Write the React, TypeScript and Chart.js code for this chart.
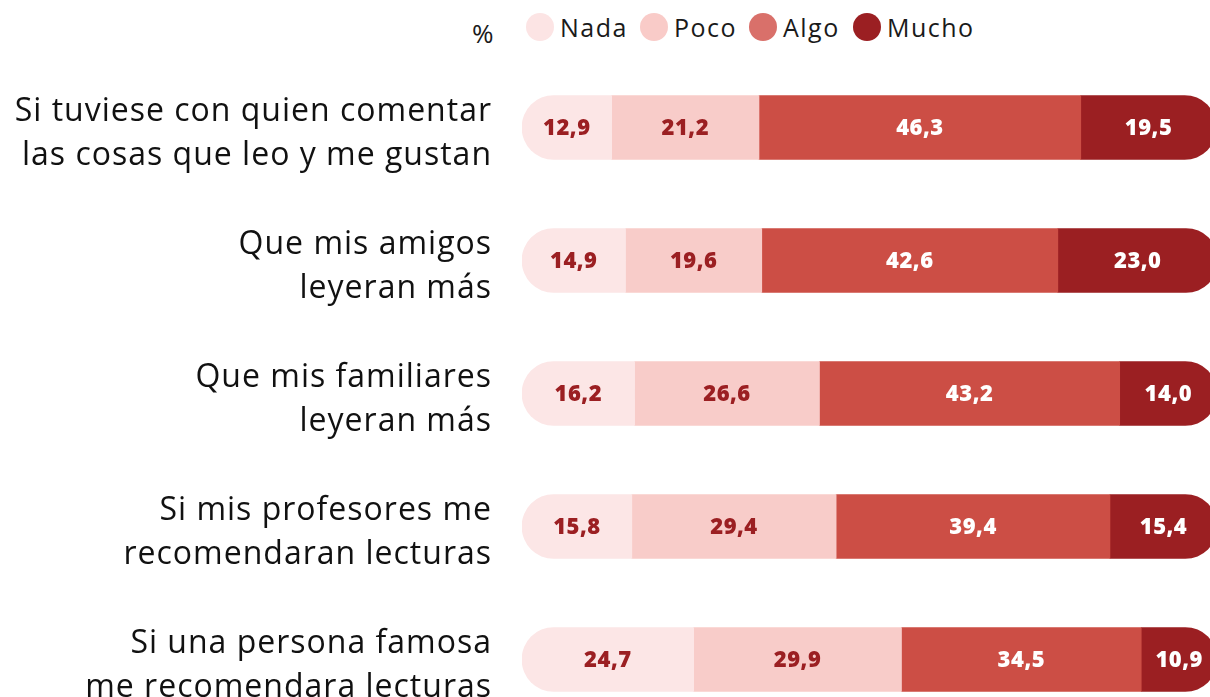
import React, { useEffect, useRef } from "react";
import { Chart, registerables } from "chart.js";

Chart.register(...registerables);

const categories: string[][] = [
  ["Si tuviese con quien comentar", "las cosas que leo y me gustan"],
  ["Que mis amigos", "leyeran más"],
  ["Que mis familiares", "leyeran más"],
  ["Si mis profesores me", "recomendaran lecturas"],
  ["Si una persona famosa", "me recomendara lecturas"],
];

const seriesNames = ["Nada", "Poco", "Algo", "Mucho"];
const nada = [12.9, 14.9, 16.2, 15.8, 24.7];
const poco = [21.2, 19.6, 26.6, 29.4, 29.9];
const algo = [46.3, 42.6, 43.2, 39.4, 34.5];
const mucho = [19.5, 23.0, 14.0, 15.4, 10.9];

const barColors = ["#FCE6E6", "#F8CCC9", "#CC4E45", "#9B1F22"];
const legendColors = ["#FCE4E4", "#F9CBC8", "#D9706A", "#9B1F22"];
const labelColors = ["#9B1F22", "#9B1F22", "#FFFFFF", "#FFFFFF"];
const legendLeft = [526, 640, 749, 853];

const FONT = "'Open Sans', 'Noto Sans', sans-serif";

const spacingPlugin = {
  id: "spacing",
  beforeDraw(chart: any) {
    chart.ctx.letterSpacing = "1px";
  },
};

const valueLabelPlugin = {
  id: "valueLabels",
  afterDatasetsDraw(chart: any) {
    const ctx = chart.ctx;
    ctx.save();
    ctx.letterSpacing = "0.5px";
    ctx.font = `800 22px ${FONT}`;
    ctx.textAlign = "center";
    ctx.textBaseline = "middle";
    chart.data.datasets.forEach((ds: any, di: number) => {
      const meta = chart.getDatasetMeta(di);
      meta.data.forEach((el: any, i: number) => {
        const { x, y, base } = el.getProps(["x", "y", "base"], true);
        const v = ds.data[i] as number;
        ctx.fillStyle = labelColors[di];
        ctx.fillText(v.toFixed(1).replace(".", ","), (x + base) / 2, y + 1);
      });
    });
    ctx.restore();
  },
};

export default function App() {
  const canvasRef = useRef<HTMLCanvasElement | null>(null);

  useEffect(() => {
    if (!canvasRef.current) return;
    const seriesData = [nada, poco, algo, mucho];
    const chart = new Chart(canvasRef.current, {
      type: "bar",
      data: {
        labels: categories,
        datasets: seriesNames.map((name, i) => ({
          label: name,
          data: seriesData[i],
          backgroundColor: barColors[i],
          borderWidth: 0,
          borderSkipped: false,
          barThickness: 64,
          borderRadius:
            i === 0
              ? { topLeft: 32, bottomLeft: 32, topRight: 0, bottomRight: 0 }
              : i === 3
              ? { topLeft: 0, bottomLeft: 0, topRight: 32, bottomRight: 32 }
              : 0,
        })),
      },
      options: {
        indexAxis: "y",
        responsive: false,
        animation: false,
        layout: { padding: { top: 61, left: 0, right: 0, bottom: 0 } },
        plugins: {
          legend: { display: false },
          tooltip: { enabled: false },
        },
        scales: {
          x: {
            stacked: true,
            display: false,
            min: 0,
            max: 100,
          },
          y: {
            stacked: true,
            grid: { display: false, drawTicks: false },
            border: { display: false },
            afterFit: (scale: any) => {
              scale.width = 522;
              scale.paddingTop = 0;
              scale.paddingBottom = 0;
            },
            ticks: {
              padding: 30,
              color: "#111111",
              labelOffset: 6,
              font: { family: FONT, size: 32, lineHeight: 1.375 },
            },
          },
        },
      },
      plugins: [spacingPlugin, valueLabelPlugin],
    } as any);
    return () => chart.destroy();
  }, []);

  return (
    <div
      style={{
        position: "fixed",
        left: 0,
        top: 0,
        width: 1210,
        height: 697,
        overflow: "hidden",
        background: "#ffffff",
        fontFamily: FONT,
        color: "#1a1a1a",
      }}
    >
      <span
        style={{
          position: "absolute",
          left: 472,
          top: 16,
          fontSize: 26,
          lineHeight: "34px",
        }}
      >
        %
      </span>
      {seriesNames.map((name, i) => (
        <div
          key={name}
          style={{
            position: "absolute",
            left: legendLeft[i],
            top: 12,
            height: 30,
            display: "flex",
            alignItems: "center",
            fontSize: 25,
            letterSpacing: "1.5px",
          }}
        >
          <span
            style={{
              width: 28,
              height: 28,
              borderRadius: "50%",
              background: legendColors[i],
              display: "inline-block",
              marginRight: 6,
            }}
          />
          <span>{name}</span>
        </div>
      ))}
      <canvas
        ref={canvasRef}
        width={1217}
        height={726}
        style={{ position: "absolute", left: 0, top: 0, display: "block" }}
      />
    </div>
  );
}
